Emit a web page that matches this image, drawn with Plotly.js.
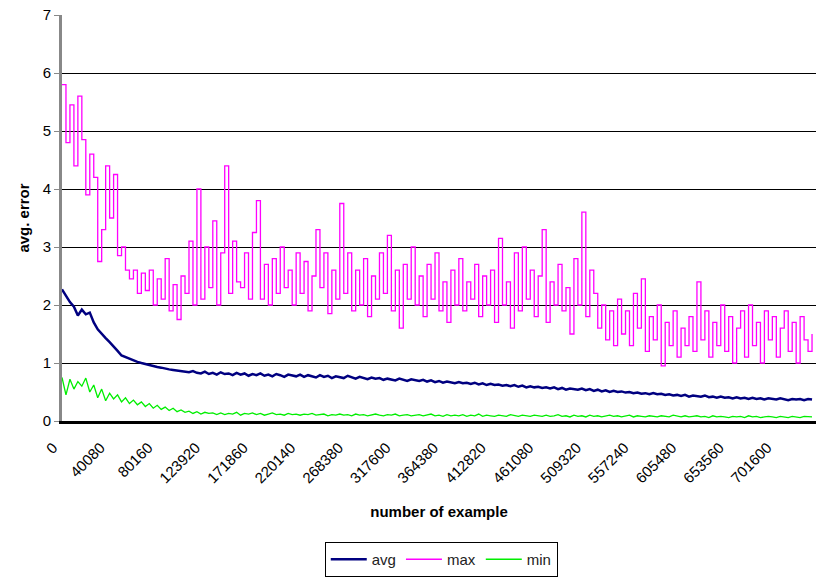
<!DOCTYPE html>
<html>
<head>
<meta charset="utf-8">
<script src="https://cdn.plot.ly/plotly-3.0.1.min.js"></script>
<style>html,body{margin:0;padding:0;background:#fff;}#chart{width:816px;height:577px;}</style>
</head>
<body>
<div id="chart"></div>
<script>
// Category tick labels (number of example)
const tickLabels = ["0","40080","80160","123920","171860","220140","268380","317600","364380","412820","461080","509320","557240","605480","653560","701600"];
const tickEvery = 12; // categories between labelled ticks

// avg. error series, one value per sample category
const avgValues = [
2.27,2.15,2.05,1.97,1.82,1.92,1.84,1.87,1.70,1.58,
1.50,1.43,1.36,1.29,1.21,1.13,1.10,1.07,1.04,1.02,
1.00,0.98,0.96,0.95,0.93,0.92,0.90,0.89,0.88,0.87,
0.86,0.85,0.84,0.86,0.83,0.82,0.85,0.81,0.83,0.80,
0.84,0.81,0.82,0.79,0.83,0.80,0.82,0.78,0.81,0.79,
0.82,0.78,0.80,0.77,0.81,0.79,0.76,0.80,0.78,0.77,
0.80,0.76,0.79,0.77,0.75,0.79,0.76,0.78,0.74,0.77,
0.76,0.74,0.78,0.75,0.73,0.76,0.74,0.72,0.75,0.73,
0.74,0.71,0.73,0.72,0.70,0.73,0.71,0.69,0.72,0.70,
0.69,0.71,0.68,0.70,0.67,0.69,0.66,0.68,0.67,0.65,
0.67,0.65,0.66,0.64,0.66,0.63,0.65,0.62,0.64,0.62,
0.63,0.61,0.62,0.60,0.62,0.59,0.61,0.58,0.60,0.58,
0.59,0.57,0.58,0.56,0.58,0.55,0.57,0.54,0.56,0.55,
0.54,0.56,0.53,0.55,0.52,0.54,0.51,0.53,0.50,0.52,
0.50,0.51,0.49,0.50,0.48,0.49,0.47,0.48,0.46,0.48,
0.46,0.47,0.45,0.46,0.44,0.45,0.43,0.45,0.42,0.44,
0.43,0.42,0.44,0.41,0.42,0.40,0.42,0.40,0.41,0.39,
0.41,0.39,0.40,0.38,0.40,0.38,0.39,0.37,0.39,0.38,
0.37,0.39,0.38,0.36,0.38,0.37,0.38,0.36,0.38,0.37];

const maxValues = [
5.80,4.80,5.45,4.40,5.60,4.85,3.90,4.60,4.20,2.75,
3.30,4.40,3.50,4.25,2.85,3.00,2.60,2.45,2.60,2.20,
2.55,2.25,2.60,2.00,2.45,2.10,2.80,1.90,2.35,1.75,
2.50,2.20,3.10,2.00,4.00,2.10,3.00,2.30,3.45,2.00,
2.90,4.40,2.20,3.10,2.40,2.30,2.90,2.10,3.25,3.80,
2.10,2.70,2.00,2.80,2.20,3.00,2.30,2.60,2.00,2.90,
2.20,2.75,1.90,2.50,3.30,2.30,2.90,1.85,2.60,2.10,
3.75,2.20,2.90,1.90,2.60,2.00,2.80,1.80,2.50,2.10,
2.90,2.20,3.20,1.90,2.60,1.60,2.70,2.10,3.00,2.00,
2.50,1.80,2.70,2.10,2.90,1.90,2.40,1.70,2.60,2.00,
2.80,1.90,2.40,2.10,2.70,1.80,2.50,2.00,2.60,1.70,
3.15,2.00,2.40,1.60,2.90,1.90,3.00,2.10,2.60,1.80,
2.50,3.30,1.70,2.40,2.00,2.70,1.90,2.30,1.50,2.80,
2.00,3.60,1.80,2.60,2.20,1.60,2.00,1.40,1.90,1.30,
2.10,1.50,1.90,1.30,2.20,1.60,2.45,1.20,1.80,1.40,
2.00,0.95,1.70,1.30,1.90,1.10,1.60,1.30,1.80,1.20,
2.40,1.40,1.90,1.10,1.70,1.30,2.00,1.20,1.80,1.00,
1.60,1.90,1.10,2.00,1.30,1.70,1.00,1.90,1.40,1.80,
1.10,1.60,1.90,1.20,1.70,1.00,1.80,1.40,1.20,1.50];

const minValues = [
0.75,0.45,0.72,0.55,0.68,0.60,0.74,0.50,0.62,0.40,
0.55,0.35,0.48,0.38,0.45,0.33,0.40,0.30,0.36,0.28,
0.33,0.25,0.30,0.22,0.27,0.20,0.24,0.18,0.22,0.16,
0.19,0.15,0.17,0.13,0.16,0.12,0.15,0.13,0.14,0.11,
0.14,0.11,0.13,0.12,0.15,0.10,0.13,0.12,0.14,0.11,
0.13,0.10,0.12,0.14,0.11,0.12,0.10,0.13,0.11,0.12,
0.10,0.12,0.11,0.13,0.10,0.11,0.12,0.09,0.11,0.10,
0.12,0.10,0.11,0.09,0.12,0.10,0.11,0.09,0.10,0.12,
0.10,0.09,0.11,0.10,0.12,0.09,0.10,0.11,0.09,0.10,
0.11,0.09,0.10,0.12,0.09,0.10,0.08,0.11,0.09,0.10,
0.09,0.11,0.08,0.10,0.09,0.12,0.08,0.10,0.09,0.08,
0.10,0.09,0.08,0.11,0.09,0.08,0.10,0.09,0.08,0.10,
0.09,0.08,0.10,0.08,0.09,0.11,0.08,0.09,0.07,0.10,
0.08,0.09,0.07,0.10,0.08,0.09,0.07,0.08,0.10,0.08,
0.09,0.07,0.08,0.10,0.07,0.09,0.08,0.07,0.09,0.08,
0.07,0.09,0.08,0.07,0.10,0.08,0.07,0.09,0.07,0.08,
0.09,0.07,0.08,0.06,0.09,0.07,0.08,0.07,0.06,0.08,
0.07,0.08,0.06,0.09,0.07,0.08,0.06,0.07,0.08,0.07,
0.06,0.08,0.07,0.06,0.08,0.07,0.06,0.08,0.07,0.07];

const idx = arr => arr.map((_, i) => i);
const tickVals = tickLabels.map((_, k) => k * tickEvery);

const font = "Liberation Sans, Arial, sans-serif";

const traces = [
  {x: idx(avgValues), y: avgValues, name: "avg", type: "scatter", mode: "lines",
   line: {color: "#000080", width: 2.5}},
  {x: idx(maxValues), y: maxValues, name: "max", type: "scatter", mode: "lines",
   line: {color: "#ff00ff", width: 1.3, shape: "hv"}},
  {x: idx(minValues), y: minValues, name: "min", type: "scatter", mode: "lines",
   line: {color: "#00ee00", width: 1.3}}
];

const layout = {
  width: 816, height: 577,
  margin: {l: 62, r: 0, t: 15, b: 155},
  paper_bgcolor: "#fff", plot_bgcolor: "#fff",
  font: {family: font, size: 12, color: "#000"},
  showlegend: true,
  legend: {orientation: "h", x: 0.503, xanchor: "center", y: -0.297, yanchor: "top",
    bordercolor: "#000", borderwidth: 1, font: {size: 15, color: "#222"},
    itemwidth: 36, tracegroupgap: 0},
  xaxis: {range: [0, 190], tickvals: tickVals, ticktext: tickLabels, tickangle: -45,
    showgrid: false, zeroline: false, showline: true, linecolor: "#000", linewidth: 3,
    ticks: "", tickfont: {size: 15, color: "#000"}, ticklabelshift: -9, ticklabelstandoff: 9,
    title: {text: "<b>number of example</b>", font: {size: 15, color: "#000"}, standoff: 22}},
  yaxis: {range: [0, 7], dtick: 1, showgrid: true, gridcolor: "#000", gridwidth: 1,
    zeroline: false, showline: true, linecolor: "#888", linewidth: 3,
    ticks: "outside", ticklen: 5, tickcolor: "#888", tickfont: {size: 15, color: "#000"},
    title: {text: "<b>avg. error</b>", font: {size: 15, color: "#000"}, standoff: 10}}
};

Plotly.newPlot("chart", traces, layout, {displayModeBar: false, staticPlot: true});
</script>
</body>
</html>
